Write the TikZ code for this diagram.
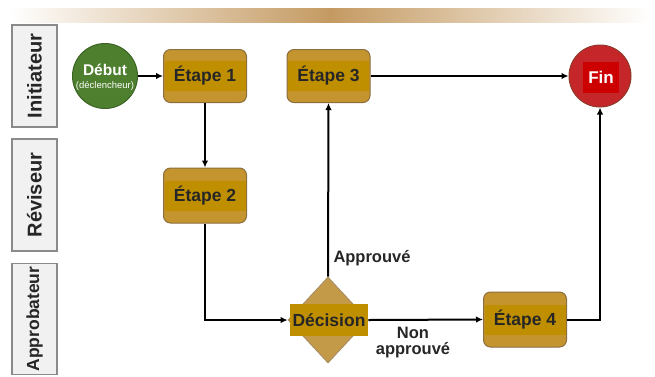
\documentclass[tikz,border=0pt]{standalone}
\usepackage{fontspec}
\setmainfont{Liberation Sans}
\usetikzlibrary{shapes.geometric,arrows.meta}
\definecolor{goldbox}{HTML}{C4952F}
\definecolor{goldband}{HTML}{BF8F00}
\definecolor{goldedge}{HTML}{8C6E3E}
\definecolor{tanbar}{HTML}{C49A62}
\definecolor{diamondfill}{HTML}{C29A48}
\definecolor{greenc}{HTML}{4E7F2E}
\definecolor{greenedge}{HTML}{3C6424}
\definecolor{redc}{HTML}{C4262A}
\definecolor{rededge}{HTML}{8E3A2A}
\definecolor{redrect}{HTML}{CC0000}
\definecolor{lanefill}{HTML}{F1F1F1}
\definecolor{laneedge}{HTML}{8A8A8A}
\definecolor{txt}{HTML}{262626}
\tikzset{
  lane/.style={draw=laneedge, line width=1.2pt, fill=lanefill, rotate=90,
    minimum height=45pt, inner sep=0pt, font=\bfseries\fontsize{20}{20}\selectfont, text=txt},
  stepbox/.style={draw=goldedge, line width=1pt, fill=goldbox, rounded corners=7pt,
    minimum width=83pt, minimum height=53pt, inner sep=0pt},
  steptext/.style={fill=goldband, minimum width=81pt, minimum height=30pt, inner sep=0pt,
    font=\bfseries\fontsize{17.5}{17.5}\selectfont, text=txt},
  conn/.style={line width=2pt, -{Latex[length=7pt,width=6.5pt]}},
  lbl/.style={font=\bfseries\fontsize{16.5}{17}\selectfont, text=txt, inner sep=0pt}
}
\begin{document}
\begin{tikzpicture}[x=1pt,y=-1pt]
\useasboundingbox (0,0) rectangle (655,376);
\fill[white] (0,0) rectangle (655,376);
% top gradient bar
\shade[left color=white, right color=white, middle color=tanbar] (10,8) rectangle (650,22);
% lanes
\node[lane, minimum width=102pt] (l1) at (34.5,76) {Initiateur};
\node[lane, minimum width=112pt] (l2) at (34.5,195) {Réviseur};
\node[lane, minimum width=111pt, font=\bfseries\fontsize{17.5}{17.5}\selectfont] (l3) at (34.5,319) {Approbateur};
% start
\node[circle, draw=greenedge, line width=1pt, fill=greenc, minimum size=65pt, inner sep=0pt] (debut) at (105,76) {};
\node[text=white, font=\bfseries\fontsize{15.5}{15.5}\selectfont, inner sep=0pt] (debutt) at (105,70) {Début};
\node[text=white, font=\fontsize{9.5}{9.5}\selectfont, inner sep=0pt] (debuts) at (105,86) {(déclencheur)};
% end
\node[circle, draw=rededge, line width=1pt, fill=redc, minimum size=62pt, inner sep=0pt] (fin) at (600,76) {};
\node[fill=redrect, text=white, minimum width=36pt, minimum height=31pt, inner sep=0pt,
  font=\bfseries\fontsize{17}{17}\selectfont] (fint) at (601,77) {Fin};
% steps
\node[stepbox] (e1) at (205,76) {};
\node[steptext] (e1t) at (205,76) {Étape 1};
\node[stepbox] (e3) at (328.5,76) {};
\node[steptext] (e3t) at (328.5,76) {Étape 3};
\node[stepbox, minimum height=55pt] (e2) at (205,195.5) {};
\node[steptext] (e2t) at (205,195.5) {Étape 2};
\node[stepbox, minimum height=55pt] (e4) at (525,319.5) {};
\node[steptext] (e4t) at (525,319.5) {Étape 4};
% decision
\node[diamond, draw=goldedge!80, line width=0.8pt, fill=diamondfill, minimum width=80pt, minimum height=86pt, inner sep=0pt] (dec) at (328,320) {};
\node[fill=goldband, minimum width=78pt, minimum height=32pt, inner sep=0pt,
  font=\bfseries\fontsize{17.5}{17.5}\selectfont, text=txt] (dect) at (329,320) {Décision};
% connectors
\draw[conn] (debut) -- (e1);
\draw[conn] (e1) -- (e2);
\draw[conn] (e2.south) |- (dec.west);
\draw[conn] (dec.north) -- (e3.south);
\draw[conn] (dec.east) -- (e4.west);
\draw[conn] (e4.east) -| (fin.south);
\draw[conn] (e3.east) -- (fin.west);
% labels
\node[lbl] (appr) at (372,258) {Approuvé};
\node[lbl] (non) at (413,333) {Non};
\node[lbl] (nonappr) at (413,350.5) {approuvé};
\end{tikzpicture}
\end{document}
